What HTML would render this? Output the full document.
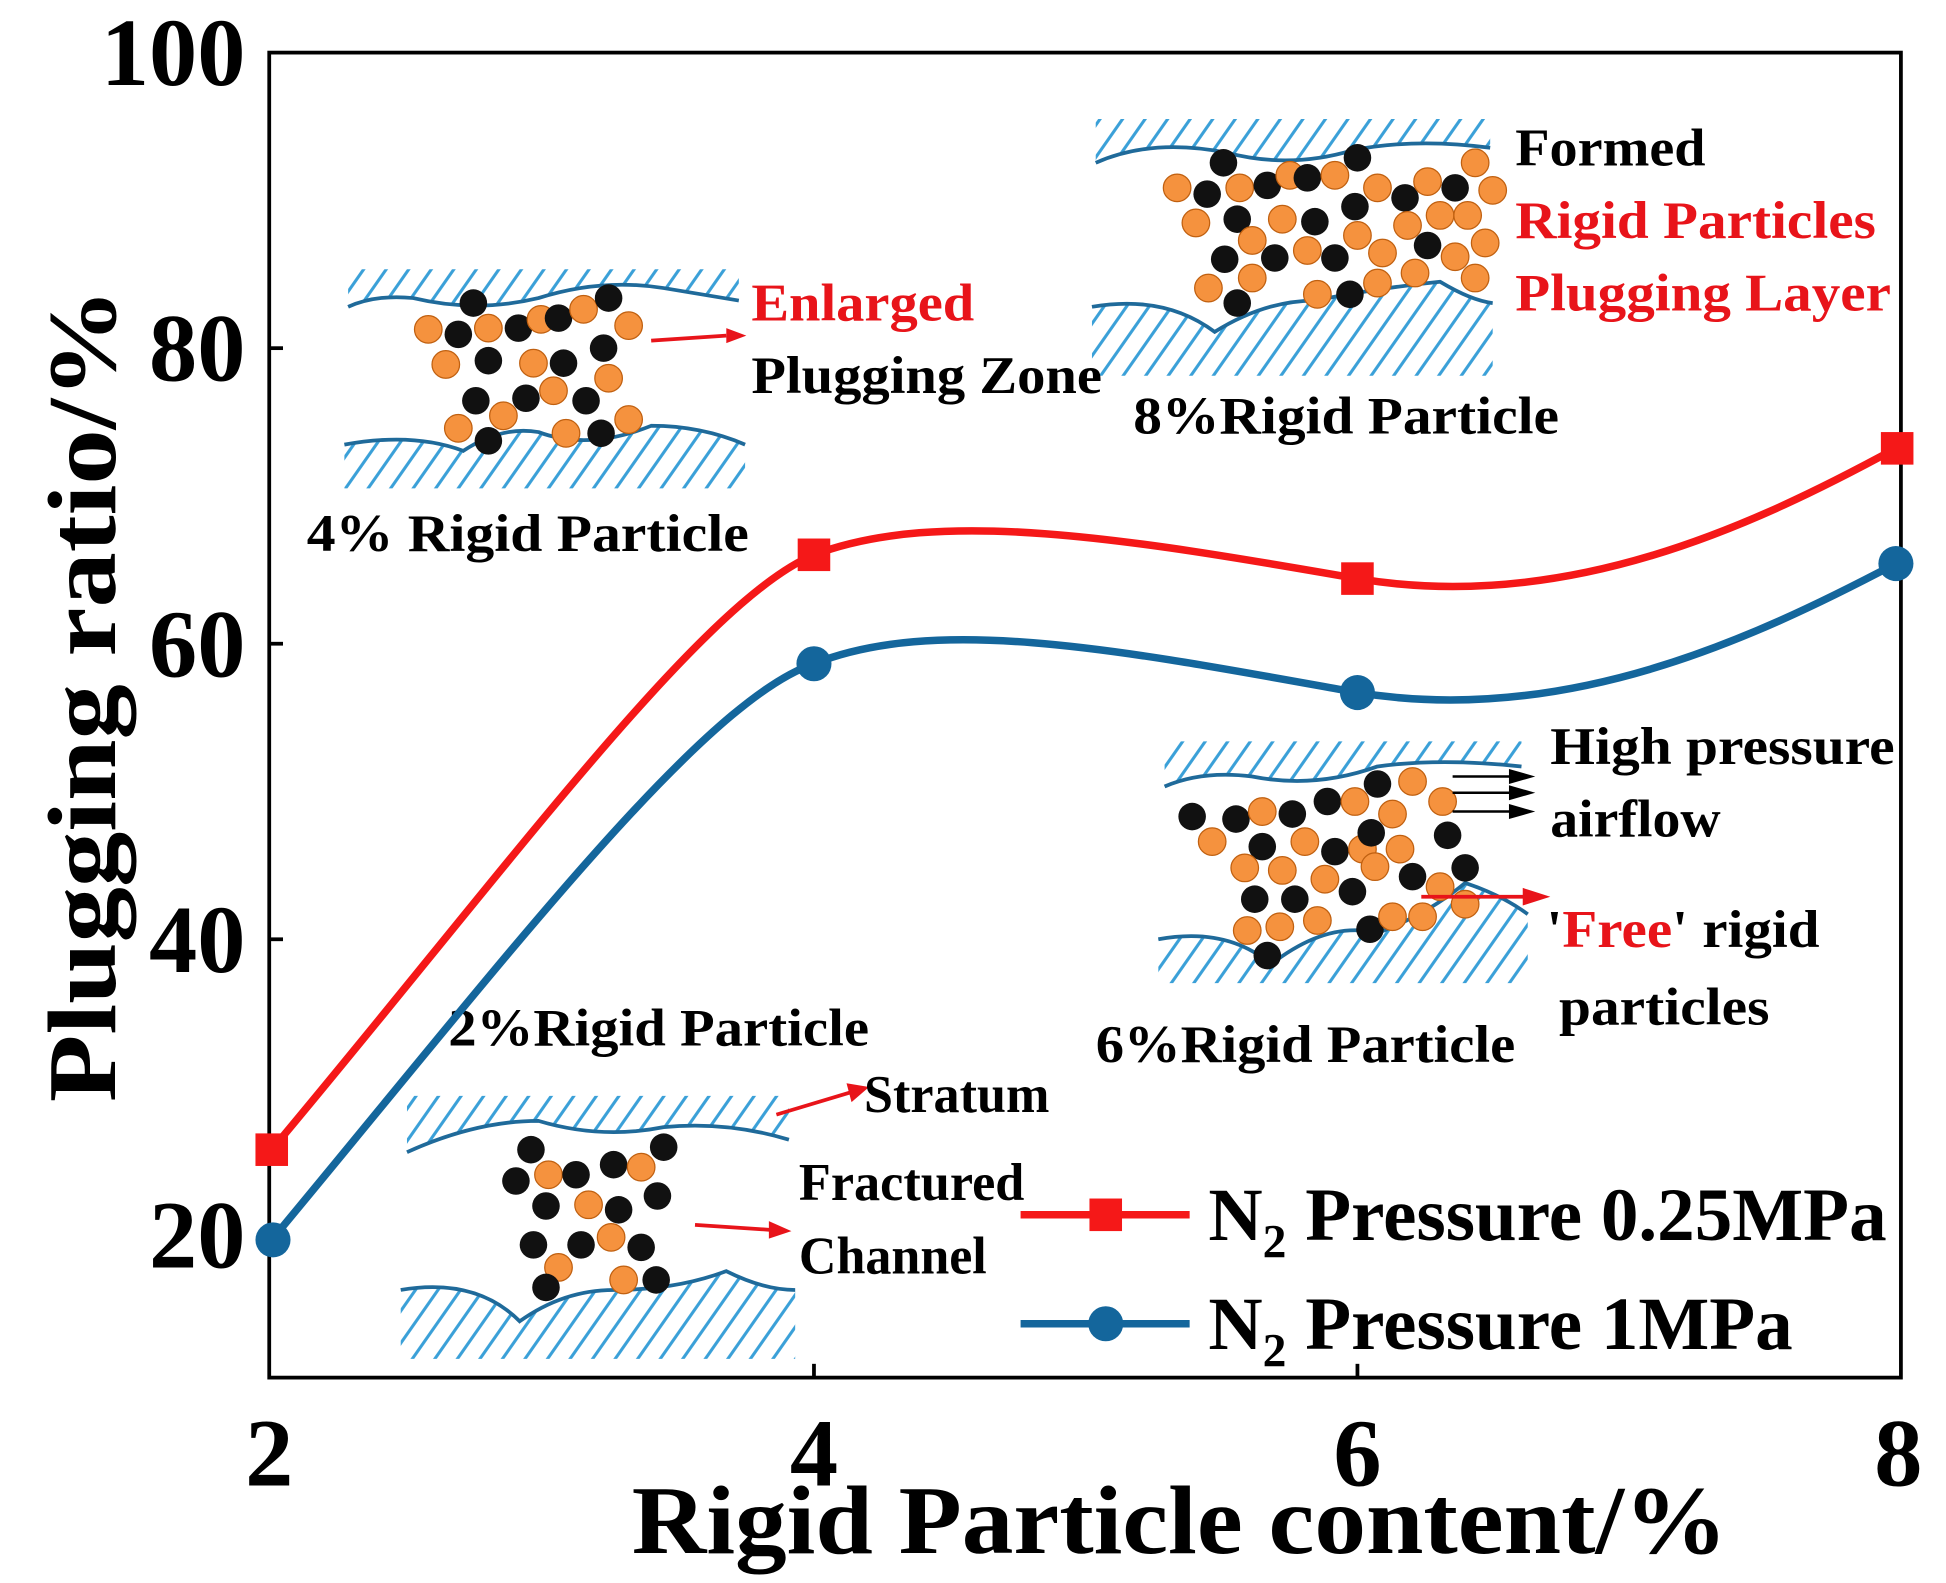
<!DOCTYPE html>
<html><head><meta charset="utf-8"><style>html,body{margin:0;padding:0;background:#fff}svg{display:block}</style></head><body>
<svg width="1946" height="1583" viewBox="0 0 1554 1264" preserveAspectRatio="none" xmlns="http://www.w3.org/2000/svg" font-family="'Liberation Serif',serif" font-weight="bold">
<defs>
<pattern id="h" width="18" height="40" patternUnits="userSpaceOnUse" patternTransform="skewX(-35)">
<line x1="9" y1="0" x2="9" y2="40" stroke="#3aa0d8" stroke-width="3"/></pattern>
<g id="o"><circle r="11" fill="#f5923e" stroke="#c06010" stroke-width="1"/></g>
<g id="b"><circle r="11" fill="#111"/></g>
</defs>
<rect width="1554" height="1264" fill="#fff"/>
<rect x="215" y="42" width="1303" height="1058" fill="none" stroke="#000" stroke-width="3"/>
<g stroke="#000" stroke-width="3">
<line x1="215" y1="278" x2="226" y2="278"/><line x1="215" y1="514" x2="226" y2="514"/><line x1="215" y1="750" x2="226" y2="750"/><line x1="215" y1="986" x2="226" y2="986"/>
<line x1="650" y1="1100" x2="650" y2="1089"/><line x1="1084" y1="1100" x2="1084" y2="1089"/>
</g>
<g font-size="77" text-anchor="end">
<text x="196" y="68">100</text><text x="196" y="304">80</text><text x="196" y="540">60</text><text x="196" y="776">40</text><text x="196" y="1012">20</text>
</g>
<g font-size="77" text-anchor="middle">
<text x="215" y="1186">2</text><text x="650" y="1186">4</text><text x="1084" y="1186">6</text><text x="1516" y="1186">8</text>
</g>
<text x="942" y="1240" font-size="78" text-anchor="middle" textLength="875" lengthAdjust="spacingAndGlyphs">Rigid Particle content/%</text>
<text transform="translate(92,555) rotate(-90)" font-size="78" text-anchor="middle" textLength="650" lengthAdjust="spacingAndGlyphs">Plugging ratio/%</text>

<g>
<path d="M278,215 L590,215 L590,240 Q560,235 530,230 Q480,222 430,238 Q380,250 330,238 Q300,235 278,245Z" fill="url(#h)"/>
<path d="M278,245 Q300,235 330,238 Q380,250 430,238 Q480,222 530,230 Q560,235 590,240" fill="none" stroke="#1f6a9a" stroke-width="3"/>
<path d="M275,355 Q330,345 370,360 Q400,340 430,345 Q470,360 520,340 Q560,340 595,355 L595,390 L275,390Z" fill="url(#h)"/>
<path d="M275,355 Q330,345 370,360 Q400,340 430,345 Q470,360 520,340 Q560,340 595,355" fill="none" stroke="#1f6a9a" stroke-width="3"/>
<path d="M875,95 L1190,95 L1190,118 Q1130,110 1080,120 Q1030,135 980,122 Q920,110 875,130Z" fill="url(#h)"/>
<path d="M875,130 Q920,110 980,122 Q1030,135 1080,120 Q1130,110 1190,118" fill="none" stroke="#1f6a9a" stroke-width="3"/>
<path d="M872,245 Q930,235 970,265 Q1010,240 1050,240 Q1100,230 1150,225 Q1175,240 1192,242 L1192,300 L872,300Z" fill="url(#h)"/>
<path d="M872,245 Q930,235 970,265 Q1010,240 1050,240 Q1100,230 1150,225 Q1175,240 1192,242" fill="none" stroke="#1f6a9a" stroke-width="3"/>
<path d="M930,592 L1215,592 L1215,612 Q1150,605 1100,612 Q1050,630 1000,620 Q960,615 930,628Z" fill="url(#h)"/>
<path d="M930,628 Q960,615 1000,620 Q1050,630 1100,612 Q1150,605 1215,612" fill="none" stroke="#1f6a9a" stroke-width="3"/>
<path d="M925,750 Q980,740 1015,770 Q1060,735 1100,745 Q1140,730 1170,705 Q1200,715 1220,730 L1220,785 L925,785Z" fill="url(#h)"/>
<path d="M925,750 Q980,740 1015,770 Q1060,735 1100,745 Q1140,730 1170,705 Q1200,715 1220,730" fill="none" stroke="#1f6a9a" stroke-width="3"/>
<path d="M325,875 L630,875 L630,910 Q580,895 530,900 Q480,910 430,895 Q380,895 325,920Z" fill="url(#h)"/>
<path d="M325,920 Q380,895 430,895 Q480,910 530,900 Q580,895 630,910" fill="none" stroke="#1f6a9a" stroke-width="3"/>
<path d="M320,1030 Q380,1020 415,1055 Q450,1030 490,1030 Q540,1030 580,1015 Q610,1030 635,1030 L635,1085 L320,1085Z" fill="url(#h)"/>
<path d="M320,1030 Q380,1020 415,1055 Q450,1030 490,1030 Q540,1030 580,1015 Q610,1030 635,1030" fill="none" stroke="#1f6a9a" stroke-width="3"/>
</g>
<g>
<use href="#o" x="342" y="263"/><use href="#b" x="366" y="267"/><use href="#b" x="378" y="242"/><use href="#o" x="390" y="262"/><use href="#b" x="414" y="262"/><use href="#o" x="432" y="255"/><use href="#b" x="446" y="254"/><use href="#o" x="466" y="247"/><use href="#b" x="486" y="238"/><use href="#o" x="502" y="260"/>
<use href="#o" x="356" y="291"/><use href="#b" x="390" y="288"/><use href="#o" x="426" y="290"/><use href="#b" x="450" y="290"/><use href="#b" x="482" y="278"/><use href="#o" x="486" y="302"/>
<use href="#b" x="380" y="320"/><use href="#o" x="402" y="332"/><use href="#b" x="420" y="318"/><use href="#o" x="442" y="312"/><use href="#b" x="468" y="320"/><use href="#o" x="366" y="342"/><use href="#b" x="390" y="352"/><use href="#o" x="452" y="346"/><use href="#b" x="480" y="346"/><use href="#o" x="502" y="335"/>

<use href="#o" x="940" y="150"/><use href="#b" x="977" y="130"/><use href="#b" x="964" y="155"/><use href="#o" x="990" y="150"/><use href="#b" x="1012" y="148"/><use href="#o" x="1030" y="140"/><use href="#b" x="1044" y="142"/><use href="#o" x="1066" y="140"/><use href="#b" x="1084" y="126"/><use href="#o" x="1100" y="150"/><use href="#b" x="1122" y="158"/><use href="#o" x="1140" y="145"/><use href="#b" x="1162" y="150"/><use href="#o" x="1178" y="130"/><use href="#o" x="1192" y="152"/>
<use href="#o" x="955" y="178"/><use href="#b" x="988" y="175"/><use href="#o" x="1000" y="192"/><use href="#o" x="1024" y="175"/><use href="#b" x="1050" y="177"/><use href="#o" x="1084" y="188"/><use href="#b" x="1082" y="165"/><use href="#o" x="1124" y="180"/><use href="#o" x="1150" y="172"/><use href="#o" x="1172" y="172"/><use href="#b" x="1140" y="196"/><use href="#o" x="1186" y="194"/>
<use href="#b" x="978" y="207"/><use href="#o" x="1000" y="222"/><use href="#b" x="1018" y="206"/><use href="#o" x="1044" y="200"/><use href="#b" x="1066" y="206"/><use href="#o" x="1104" y="202"/><use href="#o" x="1130" y="218"/><use href="#o" x="1162" y="205"/><use href="#o" x="965" y="230"/><use href="#b" x="988" y="242"/><use href="#o" x="1052" y="235"/><use href="#b" x="1078" y="235"/><use href="#o" x="1100" y="226"/><use href="#o" x="1178" y="222"/>

<use href="#b" x="952" y="652"/><use href="#b" x="987" y="654"/><use href="#o" x="1008" y="648"/><use href="#b" x="1032" y="650"/><use href="#b" x="1060" y="640"/><use href="#o" x="1082" y="640"/><use href="#b" x="1100" y="626"/><use href="#o" x="1112" y="650"/><use href="#o" x="1128" y="624"/><use href="#o" x="1152" y="640"/>
<use href="#o" x="968" y="672"/><use href="#b" x="1008" y="676"/><use href="#o" x="1042" y="672"/><use href="#b" x="1066" y="680"/><use href="#o" x="1088" y="678"/><use href="#b" x="1095" y="665"/><use href="#o" x="1118" y="678"/><use href="#b" x="1156" y="667"/>
<use href="#o" x="994" y="693"/><use href="#o" x="1024" y="695"/><use href="#o" x="1058" y="702"/><use href="#o" x="1098" y="692"/><use href="#b" x="1128" y="700"/><use href="#o" x="1150" y="708"/><use href="#b" x="1170" y="693"/><use href="#b" x="1002" y="718"/><use href="#b" x="1034" y="718"/><use href="#b" x="1080" y="712"/><use href="#o" x="1170" y="722"/>
<use href="#o" x="996" y="743"/><use href="#o" x="1022" y="740"/><use href="#o" x="1052" y="735"/><use href="#b" x="1094" y="742"/><use href="#o" x="1112" y="732"/><use href="#o" x="1136" y="732"/><use href="#b" x="1012" y="763"/>

<use href="#b" x="424" y="918"/><use href="#o" x="438" y="938"/><use href="#b" x="412" y="943"/><use href="#b" x="460" y="938"/><use href="#b" x="490" y="930"/><use href="#o" x="512" y="932"/><use href="#b" x="530" y="916"/>
<use href="#b" x="436" y="963"/><use href="#o" x="470" y="962"/><use href="#b" x="494" y="966"/><use href="#b" x="525" y="955"/>
<use href="#b" x="426" y="994"/><use href="#b" x="464" y="994"/><use href="#o" x="488" y="988"/><use href="#b" x="512" y="996"/><use href="#o" x="446" y="1012"/><use href="#b" x="436" y="1028"/><use href="#o" x="498" y="1022"/><use href="#b" x="524" y="1022"/>
</g>
<g stroke-width="3" fill="none">
<line x1="520" y1="272" x2="580" y2="268" stroke="#e8141a"/><polygon points="580,262 596,268 580,274" fill="#e8141a"/>
<line x1="620" y1="890" x2="680" y2="872" stroke="#e8141a"/><polygon points="676,865 694,868 680,880" fill="#e8141a"/>
<line x1="555" y1="978" x2="615" y2="982" stroke="#e8141a"/><polygon points="614,975 632,983 614,989" fill="#e8141a"/>
<line x1="1135" y1="716" x2="1220" y2="716" stroke="#e8141a"/><polygon points="1216,709 1238,716 1216,723" fill="#e8141a"/>
<g stroke="#000" stroke-width="2"><line x1="1160" y1="620" x2="1210" y2="620"/><line x1="1160" y1="633" x2="1210" y2="633"/><line x1="1160" y1="648" x2="1210" y2="648"/></g>
<polygon points="1205,614 1226,620 1205,626" fill="#000"/><polygon points="1205,627 1226,633 1205,639" fill="#000"/><polygon points="1205,642 1226,648 1205,654" fill="#000"/>
</g>
<g font-size="42">
<text x="600" y="256" fill="#e8141a" textLength="178" lengthAdjust="spacingAndGlyphs">Enlarged</text>
<text x="600" y="314" textLength="280" lengthAdjust="spacingAndGlyphs">Plugging Zone</text>
<text x="245" y="440" textLength="353" lengthAdjust="spacingAndGlyphs">4% Rigid Particle</text>
<text x="1210" y="132" textLength="152" lengthAdjust="spacingAndGlyphs">Formed</text>
<text x="1210" y="190" fill="#e8141a" textLength="288" lengthAdjust="spacingAndGlyphs">Rigid Particles</text>
<text x="1210" y="248" fill="#e8141a" textLength="300" lengthAdjust="spacingAndGlyphs">Plugging Layer</text>
<text x="905" y="346" textLength="340" lengthAdjust="spacingAndGlyphs">8%Rigid Particle</text>
<text x="1238" y="610" textLength="275" lengthAdjust="spacingAndGlyphs">High pressure</text>
<text x="1238" y="668" textLength="136" lengthAdjust="spacingAndGlyphs">airflow</text>
<text x="1235" y="756" textLength="218" lengthAdjust="spacingAndGlyphs">'<tspan fill="#e8141a">Free</tspan>' rigid</text>
<text x="1245" y="818" textLength="168" lengthAdjust="spacingAndGlyphs">particles</text>
<text x="875" y="848" textLength="335" lengthAdjust="spacingAndGlyphs">6%Rigid Particle</text>
<text x="358" y="835" textLength="336" lengthAdjust="spacingAndGlyphs">2%Rigid Particle</text>
<text x="690" y="888" textLength="148" lengthAdjust="spacingAndGlyphs">Stratum</text>
<text x="638" y="958" textLength="180" lengthAdjust="spacingAndGlyphs">Fractured</text>
<text x="638" y="1017" textLength="150" lengthAdjust="spacingAndGlyphs">Channel</text>
</g>
<path d="M217,918 C400,700 560,480 650,443 C750,405 900,430 1084,462 C1250,490 1400,420 1514,358" fill="none" stroke="#f51818" stroke-width="6"/>
<path d="M217,990 C400,770 560,560 650,530 C750,490 900,520 1084,553 C1250,580 1400,510 1514,450" fill="none" stroke="#14669c" stroke-width="6"/>
<g fill="#f51818"><rect x="204" y="905" width="26" height="26"/><rect x="637" y="430" width="26" height="26"/><rect x="1071" y="449" width="26" height="26"/><rect x="1502" y="345" width="26" height="26"/></g>
<g fill="#14669c"><circle cx="218" cy="990" r="14"/><circle cx="650" cy="530" r="14"/><circle cx="1084" cy="553" r="14"/><circle cx="1514" cy="450" r="14"/></g>
<line x1="815" y1="970" x2="950" y2="970" stroke="#f51818" stroke-width="6"/><rect x="870" y="957" width="26" height="26" fill="#f51818"/>
<line x1="815" y1="1057" x2="950" y2="1057" stroke="#14669c" stroke-width="6"/><circle cx="883" cy="1057" r="14" fill="#14669c"/>
<g font-size="60">
<text x="965" y="990">N<tspan font-size="38" dy="14">2</tspan><tspan dy="-14"> Pressure 0.25MPa</tspan></text>
<text x="965" y="1077">N<tspan font-size="38" dy="14">2</tspan><tspan dy="-14"> Pressure 1MPa</tspan></text>
</g>
</svg>
</body></html>
